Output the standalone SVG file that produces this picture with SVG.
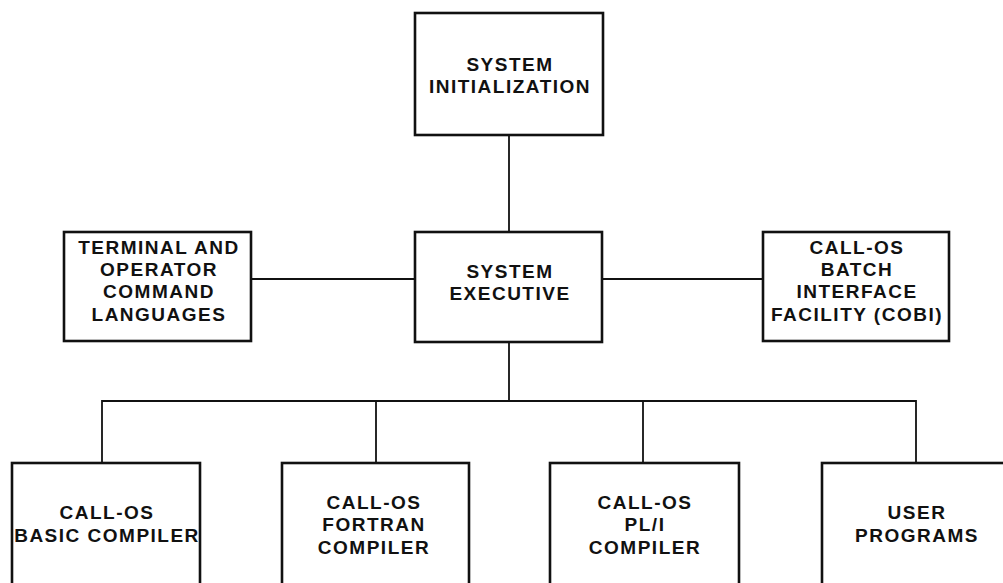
<svg xmlns="http://www.w3.org/2000/svg" width="1003" height="583" viewBox="0 0 1003 583">
<style>
.box{fill:#fff;stroke:#111;stroke-width:2.6}
.ln{fill:none;stroke:#111;stroke-width:1.8}
text{font-family:"Liberation Sans",Arial,sans-serif;font-weight:bold;font-size:19px;letter-spacing:1.5px;text-anchor:middle;fill:#111}
</style>
<rect width="1003" height="583" fill="#fff"/>
<g id="connectors">
<line class="ln" x1="509" y1="135" x2="509" y2="233"/>
<line class="ln" x1="251" y1="279" x2="415" y2="279"/>
<line class="ln" x1="602" y1="279" x2="763" y2="279"/>
<line class="ln" x1="509" y1="342" x2="509" y2="401"/>
<polyline class="ln" points="102,463 102,401 916,401 916,463"/>
<line class="ln" x1="376" y1="401" x2="376" y2="463"/>
<line class="ln" x1="643" y1="401" x2="643" y2="463"/>
</g>
<g id="system-initialization">
<rect class="box" x="415" y="13" width="188" height="122"/>
<text x="510" y="71">SYSTEM</text>
<text x="510" y="93">INITIALIZATION</text>
</g>
<g id="terminal-operator">
<rect class="box" x="64" y="232" width="187" height="109"/>
<text x="159" y="254">TERMINAL AND</text>
<text x="159" y="276">OPERATOR</text>
<text x="159" y="298">COMMAND</text>
<text x="159" y="321">LANGUAGES</text>
</g>
<g id="system-executive">
<rect class="box" x="415" y="232" width="187" height="110"/>
<text x="510" y="278">SYSTEM</text>
<text x="510" y="300">EXECUTIVE</text>
</g>
<g id="cobi">
<rect class="box" x="763" y="232" width="186" height="109"/>
<text x="857" y="254">CALL-OS</text>
<text x="857" y="276">BATCH</text>
<text x="857" y="298">INTERFACE</text>
<text x="857" y="321">FACILITY (COBI)</text>
</g>
<g id="basic-compiler">
<rect class="box" x="12" y="463" width="188" height="130"/>
<text x="107" y="519">CALL-OS</text>
<text x="107" y="542">BASIC COMPILER</text>
</g>
<g id="fortran-compiler">
<rect class="box" x="282" y="463" width="187" height="130"/>
<text x="374" y="509">CALL-OS</text>
<text x="374" y="531">FORTRAN</text>
<text x="374" y="554">COMPILER</text>
</g>
<g id="pli-compiler">
<rect class="box" x="550" y="463" width="189" height="130"/>
<text x="645" y="509">CALL-OS</text>
<text x="645" y="531">PL/I</text>
<text x="645" y="554">COMPILER</text>
</g>
<g id="user-programs">
<rect class="box" x="822" y="463" width="190" height="130"/>
<text x="917" y="519">USER</text>
<text x="917" y="542">PROGRAMS</text>
</g>
</svg>
